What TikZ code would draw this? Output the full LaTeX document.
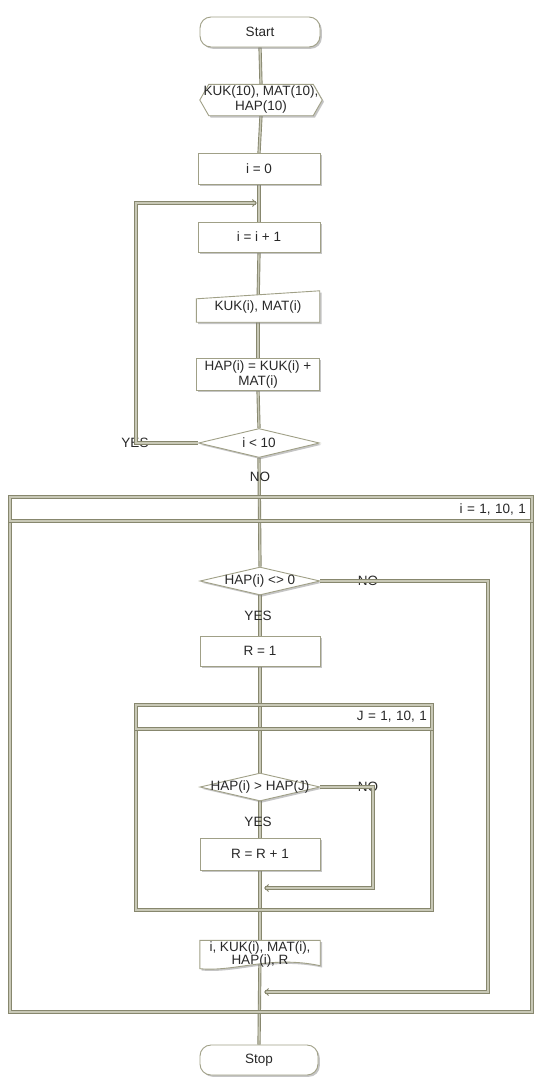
\documentclass[tikz,border=0pt]{standalone}
\usepackage{fontspec}
\setmainfont{Liberation Sans}
\usetikzlibrary{shapes.geometric,shadows,arrows.meta}
\definecolor{lnout}{RGB}{135,135,110}
\definecolor{lnin}{RGB}{200,200,182}
\definecolor{bord}{RGB}{160,160,135}
\definecolor{txt}{RGB}{40,40,40}
\pgfdeclarelayer{bg}
\pgfdeclarelayer{mid}
\pgfsetlayers{bg,mid,main}
\begin{document}
\begin{tikzpicture}[x=1pt,y=-1pt,
  font=\fontsize{13.5}{15}\selectfont, text=txt,
  shad/.style={drop shadow={shadow xshift=1.8pt, shadow yshift=-1.8pt, opacity=0.45}},
  box/.style={draw=bord, fill=white, line width=0.9pt, shad, inner sep=0pt, align=center},
  proc/.style={box, rectangle, minimum width=122pt, minimum height=31pt},
  term/.style={box, rectangle, rounded corners=11pt, minimum width=120pt, minimum height=30pt},
  deci/.style={box, diamond, minimum width=120pt, minimum height=28pt},
  free/.style={rectangle, inner sep=0pt, align=center},
  shapeline/.style={draw=bord, fill=white, line width=0.9pt, shad},
  conn/.style={draw=lnout, line width=0.9pt, double=lnin, double distance=1.4pt},
  arr/.style={conn, -{Straight Barb[length=4pt,width=7pt]}},
  loopbox/.style={rectangle, draw=lnout, line width=0.9pt, double=lnin, double distance=1.4pt, inner sep=0pt},
  lbl/.style={inner sep=0pt}]
\begin{pgfonlayer}{bg}
\fill[white] (0,0) rectangle (550,1085);
\end{pgfonlayer}
\useasboundingbox (0,0) rectangle (550,1085);

% ---- nodes ----
\node[term] (start) at (260,32) {Start};
\node[free, minimum width=122pt, minimum height=31pt] (prep) at (261,100) {KUK(10), MAT(10),\\HAP(10)};
\node[proc] (i0) at (259,169) {i = 0};
\node[proc, minimum height=30pt] (inc) at (259,237) {i = i + 1};
\node[free, minimum width=123pt, minimum height=31pt] (inp) at (258,306.5) {\raisebox{-3pt}{KUK(i), MAT(i)}};
\node[proc, minimum width=123pt, minimum height=32pt] (hap) at (258,374) {HAP(i) = KUK(i) +\\MAT(i)};
\node[deci, minimum width=121pt, minimum height=29pt, label={center:i < 10}] (dec1) at (259,443) {};
\node[lbl] (yes1) at (135,443) {YES};
\node[lbl] (no1) at (260,477) {NO};

\node[loopbox, minimum width=522pt, minimum height=515pt] (outer) at (271,754.5) {};
\node[loopbox, minimum width=522pt, minimum height=24pt, text width=510pt, align=right] (outerhd) at (271,509) {i = 1, 10, 1};

\node[deci, label={center:HAP(i) <> 0}] (dec2) at (260,581) {};
\node[lbl] (no2) at (368,581) {NO};
\node[lbl] (yes2) at (258,616) {YES};
\node[proc, minimum width=120pt, minimum height=30pt] (r1) at (260,651) {R = 1};

\node[loopbox, minimum width=296pt, minimum height=205pt] (inner) at (284,807.5) {};
\node[loopbox, minimum width=296pt, minimum height=24pt, text width=286pt, align=right] (innerhd) at (284,717) {J = 1, 10, 1};

\node[deci, label={center:HAP(i) > HAP(J)}] (dec3) at (260,787) {};
\node[lbl] (no3) at (368,787) {NO};
\node[lbl] (yes3) at (258,822) {YES};
\node[proc, minimum width=120pt, minimum height=32pt] (r2) at (260,854) {R = R + 1};

\node[free, minimum width=120pt, minimum height=23pt] (out) at (260,954.5) {\raisebox{-4pt}{\begin{tabular}{@{}c@{}}i, KUK(i), MAT(i),\\[-2pt]HAP(i), R\end{tabular}}};
\node[term, minimum width=118pt] (stop) at (259,1060) {Stop};

\coordinate (c1) at (136,443);
\coordinate (a1) at (257,203);
\coordinate (c2) at (488,581);
\coordinate (a2) at (264,992);
\coordinate (c3) at (373,787);
\coordinate (a3) at (264,888);

% ---- custom shapes ----
\begin{pgfonlayer}{mid}
\path[shapeline] (prep.west) -- ([xshift=9pt]prep.north west) -- ([xshift=-9pt]prep.north east)
   -- (prep.east) -- ([xshift=-9pt]prep.south east) -- ([xshift=9pt]prep.south west) -- cycle;
\path[shapeline] ([yshift=-8pt]inp.north west) -- (inp.north east) -- (inp.south east) -- (inp.south west) -- cycle;
\path[shapeline] ([yshift=3pt]out.south east) -- (out.north east) -- (out.north west)
   -- (out.south west) .. controls (236,972) and (270,955) .. ([yshift=3pt]out.south east) -- cycle;
\end{pgfonlayer}

% ---- connectors ----
\begin{pgfonlayer}{bg}
\draw[conn] (start.south) -- (prep.north);
\draw[conn] (prep.south) -- (i0.north);
\draw[conn] (i0.south) -- (inc.north);
\draw[conn] (inc.south) -- (inp.center);
\draw[conn] (inp.south) -- (hap.north);
\draw[conn] (hap.south) -- (dec1.north);
\draw[conn] (dec1.south) -- (dec2.north);
\draw[conn] (dec2.south) -- (r1.north);
\draw[conn] (r1.south) -- (dec3.north);
\draw[conn] (dec3.south) -- (r2.north);
\draw[conn] (r2.south) -- (out.center);
\draw[conn] (out.center) -- (stop.north);
\end{pgfonlayer}
\draw[arr] (dec1.west) -- (c1) |- (a1);
\draw[arr] (dec2.east) -- (c2) |- (a2);
\draw[arr] (dec3.east) -- (c3) |- (a3);
\end{tikzpicture}
\end{document}
